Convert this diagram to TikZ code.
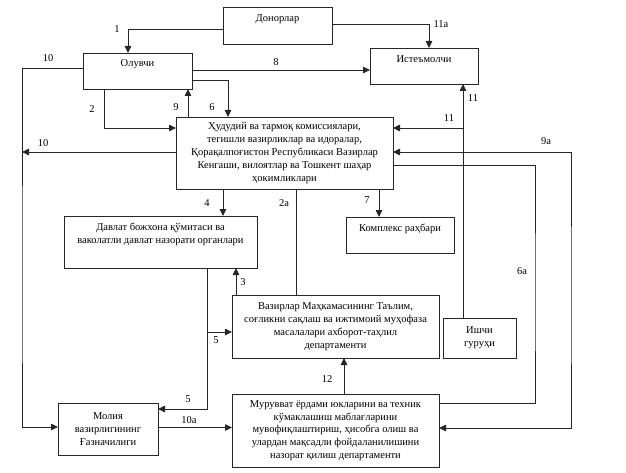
\documentclass[tikz,border=0pt]{standalone}
\usepackage{fontspec}
\setmainfont{Liberation Serif}
\usetikzlibrary{arrows.meta}
\begin{document}
\begin{tikzpicture}[x=1pt,y=-1pt,
  box/.style={draw=black!85,line width=0.8pt,anchor=north west,inner sep=2pt,outer sep=0pt,
    align=center,font=\fontsize{10.5}{12.8}\selectfont},
  arr/.style={draw=black!85,line width=0.8pt,-{Triangle[length=7pt,width=6.5pt]}},
  arrb/.style={draw=black!85,line width=0.8pt,{Triangle[length=7pt,width=6.5pt]}-{Triangle[length=7pt,width=6.5pt]}},
  ln/.style={draw=black!85,line width=0.8pt},
  lbl/.style={font=\fontsize{10.5}{12}\selectfont,inner sep=0pt}]
\useasboundingbox[fill=white] (0,0) rectangle (626,473);
% boxes
\node[box,minimum width=109pt,minimum height=37pt,text depth=15pt] (don) at (223,7) {Донорлар};
\node[box,minimum width=108pt,minimum height=36pt,text depth=14pt] (ist) at (370,48) {Истеъмолчи};
\node[box,minimum width=109pt,minimum height=36pt,text depth=15pt] (olu) at (83,53) {Олувчи};
\node[box,minimum width=217pt,minimum height=72pt] (main) at (176,117)
  {Ҳудудий ва тармоқ комиссиялари,\\тегишли вазирликлар ва идоралар,\\Қорақалпоғистон Республикаси Вазирлар\\Кенгаши, вилоятлар ва Тошкент шаҳар\\ҳокимликлари};
\node[box,minimum width=193pt,minimum height=52pt,text depth=17pt] (dav) at (64,216)
  {Давлат божхона қўмитаси ва\\ваколатли давлат назорати органлари};
\node[box,minimum width=108pt,minimum height=36pt,text depth=14pt] (kom) at (346,217) {Комплекс раҳбари};
\node[box,minimum width=207pt,minimum height=63pt] (vaz) at (232,295)
  {Вазирлар Маҳкамасининг Таълим,\\соғликни сақлаш ва ижтимоий муҳофаза\\масалалари ахборот-таҳлил\\департаменти};
\node[box,minimum width=73pt,minimum height=40pt] (ish) at (443,318) {Ишчи\\гуруҳи};
\node[box,minimum width=100pt,minimum height=52pt] (mol) at (58,403) {Молия\\вазирлигининг\\Ғазначилиги};
\node[box,minimum width=207pt,minimum height=73pt] (mur) at (232,394)
  {Мурувват ёрдами юкларини ва техник\\кўмаклашиш маблағларини\\мувофиқлаштириш, ҳисобга олиш ва\\улардан мақсадли фойдаланилишини\\назорат қилиш департаменти};
% helper coordinates
\coordinate (lft) at (22,300);
\coordinate (r9a) at (571,300);
\coordinate (r6a) at (535,300);
\coordinate (c8) at ([yshift=1pt]olu.east);
\coordinate (c9) at ([xshift=-96.5pt]main.north);
\coordinate (c4) at ([xshift=-61.5pt]main.south);
\coordinate (c2a) at ([xshift=11.5pt]main.south);
\coordinate (c7) at ([xshift=94.5pt]main.south);
\coordinate (c11) at ([xshift=-16.5pt]ish.north);
\coordinate (c11b) at ([yshift=25pt]main.east);
\coordinate (c10m) at ([yshift=1pt]main.west);
\coordinate (c3) at ([xshift=-99.5pt]vaz.north);
\coordinate (c5) at ([xshift=46.5pt]dav.south);
\coordinate (c5b) at ([yshift=-5.5pt]vaz.west);
\coordinate (c10a) at ([yshift=1.5pt]mol.east);
\coordinate (c12) at ([xshift=8.5pt]mur.north);
% connectors
\draw[arr] ([yshift=-4pt]don.west) -| ([xshift=-9.5pt]olu.north);
\draw[arr] ([yshift=1.5pt]don.east) -| ([xshift=5pt]ist.north);
\draw[arr] (c8) -- (c8 -| ist.west);
\draw[arr] ([yshift=-9pt]olu.east) -| ([xshift=-56.5pt]main.north);
\draw[arr] (c9) -- (c9 |- olu.south);
\draw[arr] ([xshift=-33.5pt]olu.south) |- ([yshift=25pt]main.west);
\draw[arr] ([yshift=3pt]olu.west) -| (lft) |- ([yshift=2pt]mol.west);
\draw[arr] (c10m) -- (c10m -| lft);
\draw[arr] (c4) -- (c4 |- dav.north);
\draw[ln] (c2a) -- (c2a |- vaz.north);
\draw[arr] (c7) -- (c7 |- kom.north);
\draw[arr] (c11) -- (c11 |- ist.south);
\draw[arr] (c11 |- c11b) -- (c11b);
\draw[arrb] ([yshift=1pt]main.east) -| (r9a) |- ([yshift=2.5pt]mur.east);
\draw[ln] ([yshift=-12pt]main.east) -| (r6a) |- ([yshift=27.5pt]mur.east);
\draw[arr] (c3) -- (c3 |- dav.south);
\draw[arr] (c5) |- ([yshift=20pt]mol.east);
\draw[arr] (c5 |- c5b) -- (c5b);
\draw[arr] (c10a) -- (c10a -| mur.west);
\draw[arr] (c12) -- (c12 |- vaz.south);
% labels
\node[lbl] (l1) at (117,29) {1};
\node[lbl] (l11a) at (441,24) {11а};
\node[lbl] (l8) at (276,62) {8};
\node[lbl] (l6) at (212,107) {6};
\node[lbl] (l9) at (176,107) {9};
\node[lbl] (l2) at (92,109) {2};
\node[lbl] (l10t) at (48,58) {10};
\node[lbl] (l10m) at (43,143) {10};
\node[lbl] (l4) at (207,203) {4};
\node[lbl] (l2a) at (284,203) {2а};
\node[lbl] (l7) at (367,200) {7};
\node[lbl] (l11t) at (473,98) {11};
\node[lbl] (l11m) at (449,118) {11};
\node[lbl] (l9a) at (546,141) {9а};
\node[lbl] (l6a) at (522,271) {6а};
\node[lbl] (l3) at (243,282) {3};
\node[lbl] (l5a) at (216,340) {5};
\node[lbl] (l5b) at (188,399) {5};
\node[lbl] (l10a) at (189,420) {10а};
\node[lbl] (l12) at (327,379) {12};
\end{tikzpicture}
\end{document}
